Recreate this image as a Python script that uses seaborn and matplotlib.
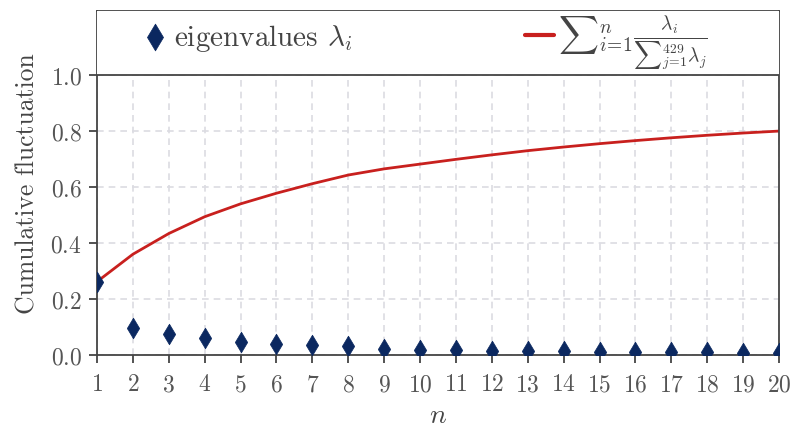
import numpy as np
import pandas as pd
import matplotlib
matplotlib.use("Agg")
import matplotlib.pyplot as plt
import matplotlib.ticker as mticker
from matplotlib.patches import Rectangle
import seaborn as sns

# Leading eigenvalues (normalised by the total over all 429 modes)
n_values = list(range(1, 21))
eigenvalues = [0.262, 0.098, 0.074, 0.060, 0.046, 0.038, 0.034, 0.031, 0.022, 0.017,
               0.017, 0.016, 0.015, 0.013, 0.012, 0.011, 0.010, 0.009, 0.008, 0.007]
y_ticks = [0.0, 0.2, 0.4, 0.6, 0.8, 1.0]

df = pd.DataFrame({"n": n_values, "eig": eigenvalues})
df["cum"] = np.cumsum(df["eig"])

sns.set_theme(style="whitegrid")
plt.rcParams.update({
    "font.family": "serif",
    "font.serif": ["cmr10"],
    "mathtext.fontset": "cm",
    "axes.formatter.use_mathtext": True,
    "axes.edgecolor": "#444444",
    "axes.linewidth": 1.3,
    "xtick.color": "#444444",
    "ytick.color": "#444444",
    "xtick.labelcolor": "#555555",
    "ytick.labelcolor": "#555555",
    "text.color": "#444444",
    "axes.labelcolor": "#444444",
})

navy = "#0b2860"
red = "#c8201e"
edge = "#444444"
y_top = 1.229

fig = plt.figure(figsize=(7.9, 4.27), dpi=100)
ax = fig.add_axes([0.1228, 0.1663, 0.9861 - 0.1228, 0.9719 - 0.1663])

sns.scatterplot(data=df, x="n", y="eig", ax=ax, marker="d", s=110, color=navy,
                edgecolor=navy, linewidth=0.5, label=r"eigenvalues $\lambda_i$", zorder=3)
sns.lineplot(data=df, x="n", y="cum", ax=ax, color=red, linewidth=2,
             label=r"${\sum}_{i\!=\!1}^{n}\frac{\lambda_i}{{\sum}_{j\!=\!1}^{429}\lambda_j}$",
             zorder=2)

ax.set_xlim(1, 20)
ax.set_ylim(0, y_top)
ax.set_xticks(n_values)
ax.set_yticks(y_ticks)
ax.xaxis.set_major_formatter(mticker.FuncFormatter(lambda v, p: rf"${int(round(v))}$"))
ax.yaxis.set_major_formatter(mticker.FuncFormatter(lambda v, p: rf"${v:.1f}$"))
ax.tick_params(axis="both", which="major", length=6, width=1.3, labelsize=17,
               bottom=True, left=True, direction="out")
ax.tick_params(axis="x", pad=7)
ax.tick_params(axis="y", pad=5)
ax.grid(True, color="#dcdce2", linestyle=(0, (4, 3)), linewidth=1.2)
for s in ax.spines.values():
    s.set_visible(True)
    s.set_color(edge)

# Header band holding the legend, separated from the data area at y = 1
ax.add_patch(Rectangle((0, 1.0), 1, y_top - 1.0, transform=ax.get_yaxis_transform(),
                       facecolor="white", edgecolor="none", zorder=4))
ax.axhline(1.0, color=edge, linewidth=1.3, zorder=5)

ax.set_xlabel(r"$n$", fontsize=20, labelpad=5)
ax.set_ylabel("Cumulative fluctuation", fontsize=18.5, labelpad=8)

leg = ax.legend(loc="center left", bbox_to_anchor=(0, 1.0 / y_top, 1, (y_top - 1.0) / y_top),
                ncol=2, fontsize=21, frameon=False, borderaxespad=0,
                handlelength=1.0, handletextpad=0.15, columnspacing=5.9,
                borderpad=1.5, markerscale=1.3)
for h in leg.legend_handles:
    if hasattr(h, "set_linewidth") and not hasattr(h, "get_offsets"):
        h.set_linewidth(3)
leg.get_texts()[1].set_fontsize(20)
leg.set_zorder(6)

fig.savefig("out.png", dpi=100)
